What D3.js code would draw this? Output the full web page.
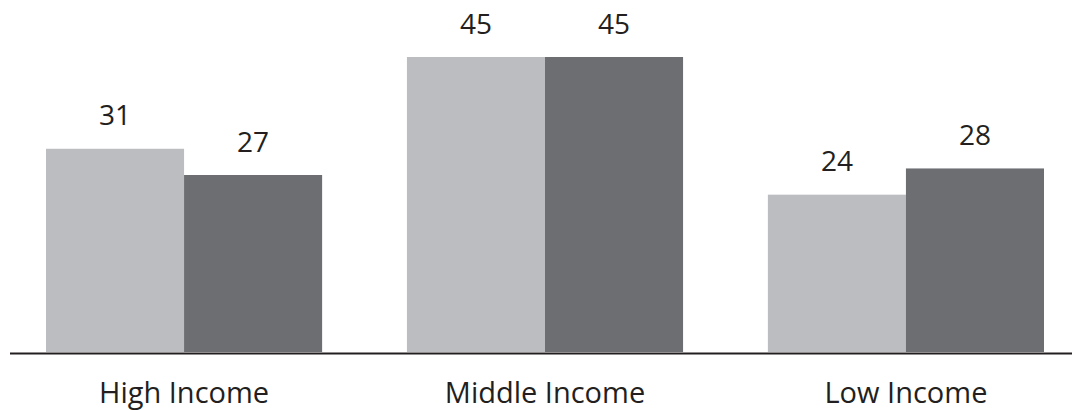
<!DOCTYPE html>
<html>
<head>
<meta charset="utf-8">
<script src="https://cdn.jsdelivr.net/npm/d3@7"></script>
<style>
html,body{margin:0;padding:0;background:#fff;}
svg{display:block;}
</style>
</head>
<body>
<svg id="chart" width="1072" height="410"></svg>
<script>
const categories = ["High Income", "Middle Income", "Low Income"];
const seriesNames = ["Series A", "Series B"];
const seriesA = [31, 45, 24];
const seriesB = [27, 45, 28];
const colors = ["#bcbdc0", "#6d6e71"];

const data = categories.map((c, i) => ({cat: c, values: [seriesA[i], seriesB[i]]}));

const svg = d3.select("#chart");
const W = 1072, H = 410;
const baseY = 352;

const x0 = d3.scaleBand().domain(categories).range([46, 1044]).paddingInner(0.235).paddingOuter(0);
const x1 = d3.scaleBand().domain(seriesNames).range([0, x0.bandwidth()]).padding(0);
const y = d3.scaleLinear().domain([0, 45]).range([baseY, 57]);

const g = svg.append("g");
const groups = g.selectAll("g.grp").data(data).join("g")
  .attr("class", "grp")
  .attr("transform", d => `translate(${x0(d.cat)},0)`);

groups.selectAll("rect").data(d => d.values.map((v, j) => ({v, s: seriesNames[j], j}))).join("rect")
  .attr("x", d => x1(d.s))
  .attr("y", d => y(d.v))
  .attr("width", x1.bandwidth())
  .attr("height", d => baseY - y(d.v))
  .attr("fill", d => colors[d.j]);

groups.selectAll("text.val").data(d => d.values.map((v, j) => ({v, s: seriesNames[j]}))).join("text")
  .attr("class", "val")
  .attr("x", d => x1(d.s) + x1.bandwidth() / 2)
  .attr("y", d => y(d.v) - 23.5)
  .attr("text-anchor", "middle")
  .attr("font-family", "'Open Sans', sans-serif")
  .attr("font-size", 28)
  .attr("fill", "#231f20")
  .text(d => d.v);

// axis baseline
const axis = d3.axisBottom(x0).tickSize(0).tickPadding(0);
const axisG = svg.append("g").attr("transform", `translate(0,${baseY + 1.5})`).call(axis);
axisG.select(".domain").remove();
axisG.append("line").attr("x1", 10).attr("x2", W).attr("y1", 0).attr("y2", 0)
  .attr("stroke", "#231f20").attr("stroke-width", 2);
axisG.selectAll(".tick text")
  .attr("y", 403 - baseY - 1.5)
  .attr("dy", 0)
  .attr("font-family", "'Open Sans', sans-serif")
  .attr("font-size", 29)
  .attr("fill", "#231f20");
</script>
</body>
</html>
